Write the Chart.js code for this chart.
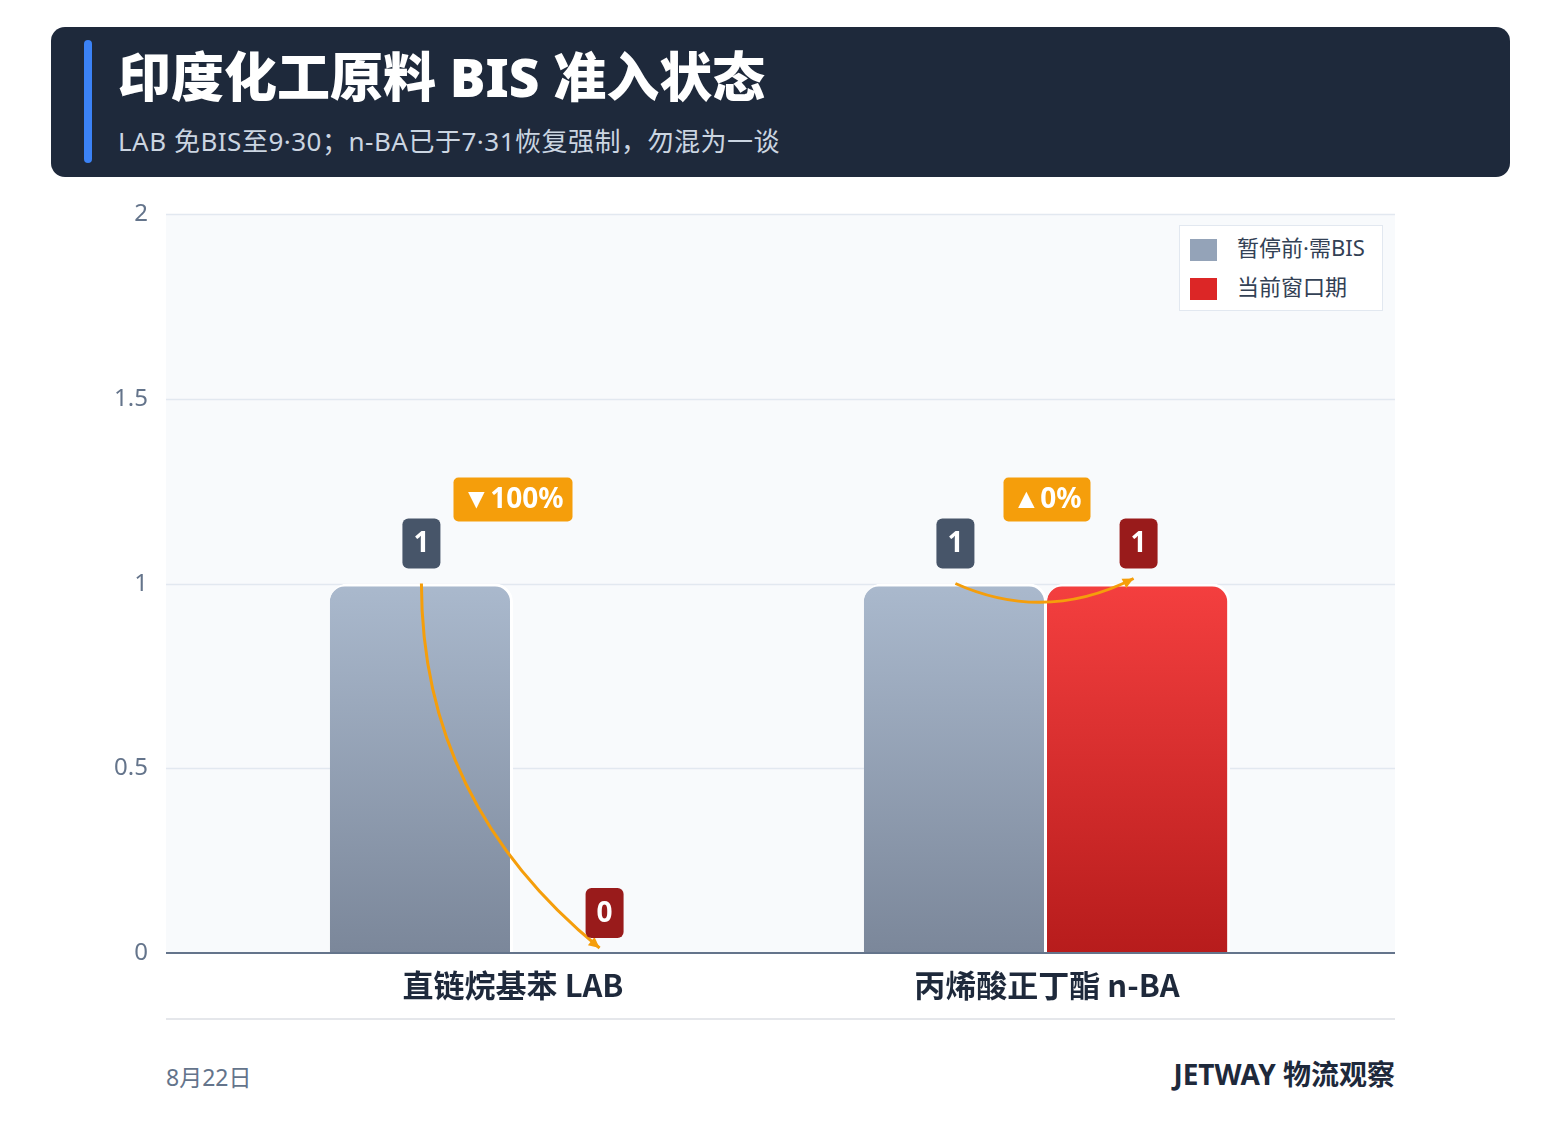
<!DOCTYPE html>
<html><head><meta charset="utf-8">
<script src="https://cdn.jsdelivr.net/npm/chart.js@4"></script>
<style>
body{margin:0;width:1561px;height:1145px;background:#fff;font-family:"Noto Sans","Noto Sans CJK SC",sans-serif;position:relative;overflow:hidden}
#hdr{position:absolute;left:51px;top:27px;width:1459px;height:150px;background:#1e293b;border-radius:14px}
#bar{position:absolute;left:33px;top:13px;width:8px;height:123px;background:#3b82f6;border-radius:4px}
#ttl{position:absolute;left:67px;top:9px;color:#fff;font-size:53px;font-weight:900;white-space:nowrap}
#sub{position:absolute;left:67px;top:94px;color:#cbd5e1;font-size:26px;white-space:nowrap;letter-spacing:0.5px}
#wrap{position:absolute;left:100px;top:200px;width:1295px;height:813px}
#leg{position:absolute;left:1179px;top:225px;width:202px;height:84px;border:1px solid #e2e8f0;background:#fff;font-size:22px;color:#334155}
.li{position:absolute;left:10px;height:24px;line-height:24px;white-space:nowrap}
.sw{display:inline-block;width:27px;height:22px;vertical-align:middle;margin-right:20px}
#line{position:absolute;left:166px;top:1018px;width:1229px;height:2px;background:#e5e7eb}
#date{position:absolute;left:166px;top:1059px;font-size:23px;color:#64748b}
#brand{position:absolute;right:166px;top:1053px;font-size:28px;font-weight:700;color:#1e293b}
</style></head><body>
<div id="hdr"><div id="bar"></div><div id="ttl">印度化工原料 BIS 准入状态</div><div id="sub">LAB 免BIS至9·30；n-BA已于7·31恢复强制，勿混为一谈</div></div>
<div id="wrap"><canvas id="c"></canvas></div>
<div id="leg"><div class="li" style="top:9px"><span class="sw" style="background:#94a3b8"></span>暂停前·需BIS</div><div class="li" style="top:48px"><span class="sw" style="background:#dc2626"></span>当前窗口期</div></div>
<div id="line"></div><div id="date">8月22日</div><div id="brand">JETWAY 物流观察</div>
<script>
const categories = ['直链烷基苯 LAB', '丙烯酸正丁酯 n-BA'];
const beforeValues = [1, 1];
const currentValues = [0, 1];
const changeLabels = ['▼100%', '▲0%'];
const yTicks = [0, 0.5, 1, 1.5, 2];

// plot panel spans wider than the category scale
const PANEL_L = 66, PANEL_R = 1295;

function grad(ctx, top, bottom) {
  const ch = ctx.chart, a = ch.chartArea;
  if (!a) return top;
  const g = ch.ctx.createLinearGradient(0, ch.scales.y.getPixelForValue(1), 0, a.bottom);
  g.addColorStop(0, top); g.addColorStop(1, bottom);
  return g;
}

function rr(c, x, y, w, h, r) {
  c.beginPath(); c.roundRect(x, y, w, h, r); c.fill();
}

const overlay = {
  id: 'overlay',
  beforeDatasetsDraw(ch) {
    const a = ch.chartArea, c = ch.ctx, y = ch.scales.y;
    c.save();
    c.fillStyle = '#f8fafc'; c.fillRect(PANEL_L, a.top, PANEL_R - PANEL_L, a.bottom - a.top);
    c.strokeStyle = '#e2e8f0'; c.lineWidth = 1.5;
    c.fillStyle = '#64748b'; c.font = '24px "Noto Sans"'; c.textAlign = 'right'; c.textBaseline = 'middle';
    yTicks.forEach(v => {
      const py = Math.round(y.getPixelForValue(v)) + 0.5;
      c.fillText(String(v), 48, py);
      if (v === 0) return;
      c.beginPath(); c.moveTo(PANEL_L, py); c.lineTo(PANEL_R, py); c.stroke();
    });
    c.restore();
  },
  afterDatasetsDraw(ch) {
    const c = ch.ctx, y = ch.scales.y, a = ch.chartArea;
    const m0 = ch.getDatasetMeta(0).data, m1 = ch.getDatasetMeta(1).data;
    c.save();
    c.strokeStyle = '#64748b'; c.lineWidth = 2;
    c.beginPath(); c.moveTo(PANEL_L, a.bottom); c.lineTo(PANEL_R, a.bottom); c.stroke();
    // arrows
    c.strokeStyle = '#f59e0b'; c.fillStyle = '#f59e0b'; c.lineWidth = 3;
    categories.forEach((_, i) => {
      const x0 = m0[i].x, y0 = y.getPixelForValue(beforeValues[i]);
      const x1 = m1[i].x - 5, y1 = y.getPixelForValue(currentValues[i]) - 5;
      let cx, cy;
      if (y1 - y0 > 20) { cx = x0; cy = y0 + (y1 - y0) * 0.6; }
      else { cx = (x0 + x1) / 2; cy = y0 + 40; }
      c.beginPath(); c.moveTo(x0, y0); c.quadraticCurveTo(cx, cy, x1, y1); c.stroke();
      const ang = Math.atan2(y1 - cy, x1 - cx);
      c.beginPath(); c.moveTo(x1, y1);
      c.lineTo(x1 - 12 * Math.cos(ang - 0.45), y1 - 12 * Math.sin(ang - 0.45));
      c.lineTo(x1 - 12 * Math.cos(ang + 0.45), y1 - 12 * Math.sin(ang + 0.45));
      c.closePath(); c.fill();
    });
    // value labels
    c.font = 'bold 28px "Noto Sans"'; c.textAlign = 'center'; c.textBaseline = 'middle';
    const lab = (x, v, col) => {
      const py = y.getPixelForValue(v) - 40;
      c.fillStyle = col; rr(c, x - 19, py - 25, 38, 50, 6);
      c.fillStyle = '#fff'; c.fillText(String(v), x, py + 1);
    };
    categories.forEach((_, i) => {
      lab(m0[i].x, beforeValues[i], '#475569');
      lab(m1[i].x, currentValues[i], '#991b1b');
    });
    // change badges
    const by = y.getPixelForValue(1) - 84;
    categories.forEach((_, i) => {
      const x = (m0[i].x + m1[i].x) / 2;
      const w = c.measureText(changeLabels[i]).width + 18;
      c.fillStyle = '#f59e0b'; rr(c, x - w / 2, by - 22, w, 44, 5);
      c.fillStyle = '#fff'; c.fillText(changeLabels[i], x, by + 1);
    });
    c.restore();
  }
};

new Chart(document.getElementById('c'), {
  type: 'bar',
  data: {
    labels: categories,
    datasets: [
      { label: '暂停前·需BIS', data: beforeValues, backgroundColor: ctx => grad(ctx, '#aab9cd', '#7b879a'),
        borderColor: '#fff', borderWidth: { left: 0, right: 3, top: 3 }, borderSkipped: 'bottom', borderRadius: { topLeft: 18, topRight: 18 } },
      { label: '当前窗口期', data: currentValues, backgroundColor: ctx => grad(ctx, '#f43f3f', '#b71c1c'),
        borderColor: '#fff', borderWidth: { left: 0, right: 3, top: 3 }, borderSkipped: 'bottom', borderRadius: { topLeft: 18, topRight: 18 } }
    ]
  },
  options: {
    responsive: true, maintainAspectRatio: false, animation: false,
    layout: { padding: { top: 14, right: 81 } },
    categoryPercentage: 0.686, barPercentage: 1,
    plugins: { legend: { display: false }, tooltip: { enabled: false } },
    scales: {
      x: {
        grid: { display: false }, border: { display: false },
        ticks: { color: '#1e293b', font: { size: 31, weight: 'bold', family: '"Noto Sans CJK SC"' }, padding: 6 },
        afterFit(s) { s.height = 60; }
      },
      y: {
        min: 0, max: 2,
        afterBuildTicks(s) { s.ticks = yTicks.map(v => ({ value: v })); },
        grid: { display: false }, border: { display: false },
        ticks: { display: false },
        afterFit(s) { s.width = 146; }
      }
    }
  },
  plugins: [overlay]
});
</script>
</body></html>
